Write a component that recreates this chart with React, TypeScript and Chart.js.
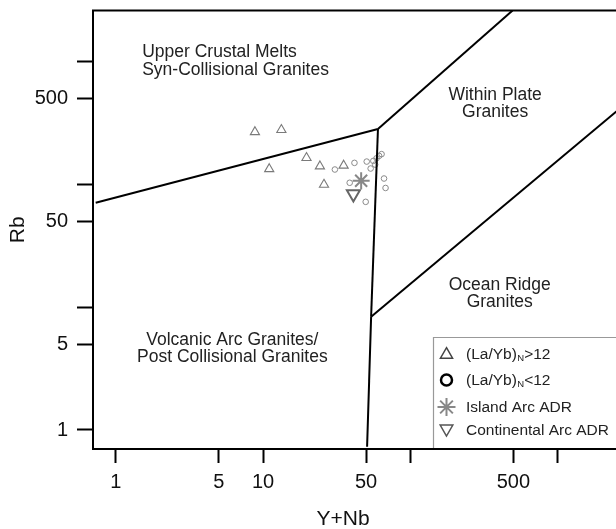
import React, { useEffect, useRef } from 'react';
import { Chart, registerables } from 'chart.js';

Chart.register(...registerables);

const FONT = '"Liberation Sans", Arial, sans-serif';

// Axis ticks (log scales)
const xTickValues = [1, 5, 10, 50, 100, 500, 1000];
const xTickLabels = ['1', '5', '10', '50', '', '500', ''];
const yTickValues = [1, 5, 10, 50, 100, 500, 1000];
const yTickLabels = ['1', '5', '', '50', '', '500', ''];

// (La/Yb)N > 12 samples
const highRatioX = [8.8, 13.3, 19.7, 11.0, 24.3, 35.2, 25.9];
const highRatioY = [268, 279, 165, 134, 141, 143, 100];

// (La/Yb)N < 12 samples
const lowRatioX = [30.7, 41.7, 50.5, 56.0, 58.9, 61.3, 63.7, 57.6, 53.7, 38.7, 66.2, 67.8, 49.7];
const lowRatioY = [132.6, 150.2, 153.9, 155.9, 163.7, 171.2, 177.0, 145.5, 135.1, 103.4, 112.0, 93.8, 72.3];

// Reference compositions
const islandArcX = [46.3];
const islandArcY = [107.5];
const continentalArcX = [41.0];
const continentalArcY = [83.8];

// Discrimination boundaries (Pearce et al.)
const synColVagX = [0.73, 60.2];
const synColVagY = [71.1, 283.8];
const synColWpgX = [60.2, 493.6];
const synColWpgY = [283.8, 2620];
const vagWpgX = [60.2, 54.1];
const vagWpgY = [283.8, 8.38];
const vagOrgX = [54.1, 50.8];
const vagOrgY = [8.38, 0.73];
const wpgOrgX = [54.1, 3000];
const wpgOrgY = [8.38, 473];

// Field labels
const fieldUpper = ['Upper Crustal Melts', 'Syn-Collisional Granites'];
const fieldWithin = ['Within Plate', 'Granites'];
const fieldOcean = ['Ocean Ridge', 'Granites'];
const fieldVolcanic = ['Volcanic Arc Granites/', 'Post Collisional Granites'];

const legendLabels = ['(La/Yb)', '(La/Yb)', 'Island Arc ADR', 'Continental Arc ADR'];
const legendSubs = ['N', 'N', '', ''];
const legendTails = ['>12', '<12', '', ''];

const xTitle = 'Y+Nb';
const yTitle = 'Rb';

function pts(xs: number[], ys: number[]) {
  return xs.map((x, i) => ({ x, y: ys[i] }));
}

function triPath(ctx: CanvasRenderingContext2D, x: number, y: number, r: number, rot: number) {
  let rad = rot;
  ctx.beginPath();
  for (let k = 0; k < 3; k++) {
    const px = x + Math.sin(rad) * r;
    const py = y - Math.cos(rad) * r;
    if (k === 0) ctx.moveTo(px, py);
    else ctx.lineTo(px, py);
    rad += (2 * Math.PI) / 3;
  }
  ctx.closePath();
}

function starPath(ctx: CanvasRenderingContext2D, x: number, y: number, r: number) {
  ctx.beginPath();
  for (let k = 0; k < 4; k++) {
    const a = (k * Math.PI) / 4;
    ctx.moveTo(x + Math.cos(a) * r, y + Math.sin(a) * r);
    ctx.lineTo(x - Math.cos(a) * r, y - Math.sin(a) * r);
  }
}

const overlayPlugin = {
  id: 'overlay',
  afterDraw(chart: any) {
    const { ctx, chartArea: ca, scales } = chart;
    const xs = scales.x;
    const ys = scales.y;
    ctx.save();

    // Legend box
    const lx = 433.5;
    const ly = 337.5;
    ctx.fillStyle = '#fff';
    ctx.fillRect(lx, ly, ca.right - lx, ca.bottom - ly);
    ctx.strokeStyle = '#999';
    ctx.lineWidth = 1.2;
    ctx.beginPath();
    ctx.moveTo(lx, ca.bottom);
    ctx.lineTo(lx, ly);
    ctx.lineTo(ca.right + 20, ly);
    ctx.stroke();

    const mx = 446.5;
    const tx = 466;
    const markerY = [353, 380, 407, 430.5];
    const baseY = [358.5, 385, 412, 435];
    // markers
    ctx.lineWidth = 1.5;
    ctx.strokeStyle = '#444';
    triPath(ctx, mx, markerY[0] + 1.7, 7, 0);
    ctx.stroke();
    ctx.lineWidth = 2.5;
    ctx.strokeStyle = '#000';
    ctx.beginPath();
    ctx.arc(mx, markerY[1], 5.5, 0, Math.PI * 2);
    ctx.stroke();
    ctx.lineWidth = 2;
    ctx.strokeStyle = '#888';
    starPath(ctx, mx, markerY[2], 9);
    ctx.stroke();
    ctx.lineWidth = 1.5;
    ctx.strokeStyle = '#555';
    triPath(ctx, mx, markerY[3] - 1.8, 7.3, Math.PI);
    ctx.stroke();

    // legend text
    ctx.fillStyle = '#222';
    ctx.textBaseline = 'alphabetic';
    ctx.textAlign = 'left';
    for (let i = 0; i < legendLabels.length; i++) {
      ctx.font = `15.5px ${FONT}`;
      let x = tx;
      ctx.fillText(legendLabels[i], x, baseY[i]);
      x += ctx.measureText(legendLabels[i]).width;
      if (legendSubs[i]) {
        ctx.font = `9.5px ${FONT}`;
        ctx.fillText(legendSubs[i], x + 0.5, baseY[i] + 2);
        x += ctx.measureText(legendSubs[i]).width + 0.5;
      }
      if (legendTails[i]) {
        ctx.font = `15.5px ${FONT}`;
        ctx.fillText(legendTails[i], x, baseY[i]);
      }
    }

    // Frame
    ctx.strokeStyle = '#000';
    ctx.lineWidth = 2;
    ctx.strokeRect(ca.left, ca.top, ca.right - ca.left, ca.bottom - ca.top);

    // Field labels
    ctx.fillStyle = '#222';
    ctx.font = `17.5px ${FONT}`;
    const gap = 17.3;
    const drawLines = (lines: string[], dx: number, dy: number, align: CanvasTextAlign) => {
      const px = xs.getPixelForValue(dx);
      const py = ys.getPixelForValue(dy);
      ctx.textAlign = align;
      lines.forEach((t, i) => ctx.fillText(t, px, py + i * gap));
    };
    drawLines(fieldUpper, 1.51, 1086, 'left');
    drawLines(fieldWithin, 376, 489.5, 'center');
    drawLines(fieldOcean, 404, 13.9, 'center');
    drawLines(fieldVolcanic, 6.18, 4.92, 'center');

    // X axis title
    ctx.fillStyle = '#111';
    ctx.font = `21px ${FONT}`;
    ctx.textAlign = 'center';
    ctx.textBaseline = 'middle';
    ctx.fillText(xTitle, 343, 519);

    ctx.restore();
  },
};

export default function App() {
  const ref = useRef<HTMLCanvasElement>(null);

  useEffect(() => {
    const canvas = ref.current;
    if (!canvas) return;
    const lineDs = (xsArr: number[], ysArr: number[]) => ({
      type: 'line',
      data: pts(xsArr, ysArr),
      borderColor: '#000',
      borderWidth: 2,
      pointRadius: 0,
      showLine: true,
      fill: false,
      tension: 0,
    });
    const chart = new Chart(canvas, {
      type: 'scatter',
      data: {
        datasets: [
          lineDs(synColVagX, synColVagY),
          lineDs(synColWpgX, synColWpgY),
          lineDs(vagWpgX, vagWpgY),
          lineDs(vagOrgX, vagOrgY),
          lineDs(wpgOrgX, wpgOrgY),
          {
            label: '(La/Yb)N>12',
            data: pts(highRatioX, highRatioY),
            pointStyle: 'triangle',
            pointRadius: 5.3,
            borderColor: '#7a7a7a',
            backgroundColor: 'rgba(0,0,0,0)',
            borderWidth: 1.1,
          },
          {
            label: '(La/Yb)N<12',
            data: pts(lowRatioX, lowRatioY),
            pointStyle: 'circle',
            pointRadius: 2.8,
            borderColor: '#8a8a8a',
            backgroundColor: 'rgba(0,0,0,0)',
            borderWidth: 1,
          },
          {
            label: 'Island Arc ADR',
            data: pts(islandArcX, islandArcY),
            pointStyle: 'star',
            pointRadius: 8.5,
            borderColor: '#888',
            backgroundColor: 'rgba(0,0,0,0)',
            borderWidth: 2,
          },
          {
            label: 'Continental Arc ADR',
            data: pts(continentalArcX, continentalArcY),
            pointStyle: 'triangle',
            rotation: 180,
            pointRadius: 7.5,
            borderColor: '#666',
            backgroundColor: 'rgba(0,0,0,0)',
            borderWidth: 2,
          },
        ] as any,
      },
      options: {
        responsive: false,
        animation: false,
        devicePixelRatio: 1,
        layout: { padding: { left: 0, top: 10, right: 12, bottom: 0 } },
        plugins: { legend: { display: false }, tooltip: { enabled: false } },
        scales: {
          x: {
            type: 'logarithmic',
            position: 'bottom',
            min: 0.73,
            max: 3000,
            afterBuildTicks: (s: any) => {
              s.ticks = xTickValues.map((v) => ({ value: v }));
            },
            afterFit: (s: any) => {
              s.height = 80;
              s.paddingLeft = 0;
              s.paddingRight = 0;
            },
            ticks: {
              autoSkip: false,
              maxRotation: 0,
              minRotation: 0,
              padding: 7,
              color: '#111',
              font: { family: FONT, size: 20 },
              callback: (_v: any, i: number) => xTickLabels[i] ?? '',
            },
            grid: {
              display: true,
              drawOnChartArea: false,
              drawTicks: true,
              tickLength: 14,
              tickWidth: 2,
              tickColor: '#000',
            },
            border: { display: false },
          },
          y: {
            type: 'logarithmic',
            position: 'left',
            min: 0.73,
            max: 2620,
            afterBuildTicks: (s: any) => {
              s.ticks = yTickValues.map((v) => ({ value: v }));
            },
            afterFit: (s: any) => {
              s.width = 93;
              s.paddingTop = 0;
              s.paddingBottom = 0;
            },
            ticks: {
              autoSkip: false,
              padding: 9,
              color: '#111',
              font: { family: FONT, size: 20 },
              callback: (_v: any, i: number) => yTickLabels[i] ?? '',
            },
            grid: {
              display: true,
              drawOnChartArea: false,
              drawTicks: true,
              tickLength: 16,
              tickWidth: 2,
              tickColor: '#000',
            },
            border: { display: false },
            title: {
              display: true,
              text: yTitle,
              color: '#111',
              font: { family: FONT, size: 21 },
              padding: { top: 6, bottom: 0 },
            },
          },
        },
      } as any,
      plugins: [overlayPlugin],
    });
    return () => chart.destroy();
  }, []);

  return (
    <div
      style={{
        position: 'absolute',
        left: 0,
        top: 0,
        width: 616,
        height: 529,
        overflow: 'hidden',
        background: '#fff',
      }}
    >
      <canvas ref={ref} width={640} height={529} style={{ display: 'block', width: 640, height: 529 }} />
    </div>
  );
}
